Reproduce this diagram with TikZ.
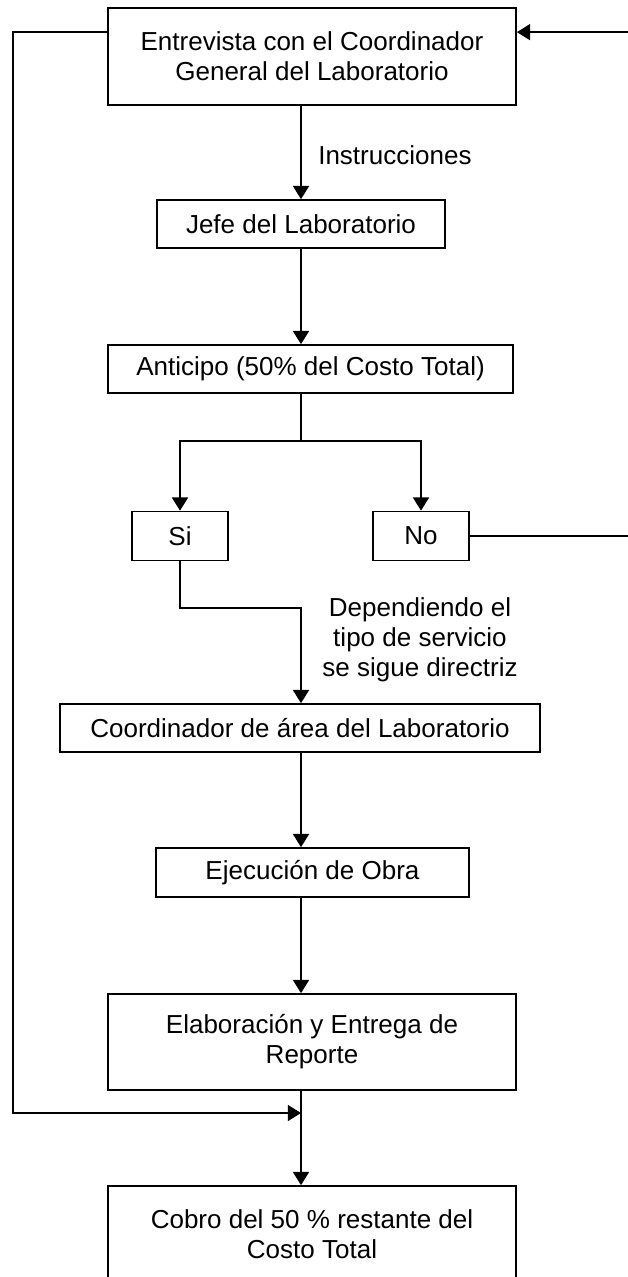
\documentclass[tikz,border=0pt]{standalone}
\usepackage{fontspec}
\setmainfont{Liberation Sans}
\usetikzlibrary{calc}
\usetikzlibrary{arrows.meta}
\tikzset{>={Triangle[length=0.33cm,width=0.4cm]}}
\tikzset{
  box/.style={draw, line width=1.2pt, rectangle, inner sep=0pt, align=center,
    font=\fontsize{18.5pt}{21.3pt}\selectfont},
  lbl/.style={align=center, inner sep=0pt, font=\fontsize{18.5pt}{21.3pt}\selectfont},
  conn/.style={line width=1.2pt}
}

\begin{document}
\begin{tikzpicture}[x=0.025cm, y=-0.025cm]
        \useasboundingbox (0,0) rectangle (628,1277);

        % Boxes down the middle
        \node[box, minimum width=10.2cm, minimum height=2.425cm] (entrevista) at (312,56.5)
            {Entrevista con el Coordinador\\General del Laboratorio};
        \node[box, minimum width=7.2cm, minimum height=1.2cm] (jefe) at (301,224) {Jefe del Laboratorio};
        \node[box, minimum width=10.125cm, minimum height=1.2cm] (anticipo) at (310.5,369) {Anticipo (50\% del Costo Total)};
        \node[box, minimum width=2.4cm, minimum height=1.225cm] (si) at (180,536) {Si};
        \node[box, minimum width=2.4cm, minimum height=1.225cm] (no) at (421,536) {No};
        \node[box, minimum width=12cm, minimum height=1.2cm] (coordarea) at (300,728) {Coordinador de área del Laboratorio};
        \node[box, minimum width=7.825cm, minimum height=1.225cm] (ejecucion) at (312.5,872.5) {Ejecución de Obra};
        \node[box, minimum width=10.2cm, minimum height=2.4cm] (elaboracion) at (312,1042)
            {Elaboración y Entrega de\\Reporte};
        \node[box, minimum width=10.2cm, minimum height=2.4cm] (cobro) at (312,1234)
            {Cobro del 50 \% restante del\\Costo Total};

        % Labels next to the trunk
        \node[lbl, anchor=west] (instr) at (318,155) {Instrucciones};
        \node[lbl] (depend) at (420,640) {Dependiendo el\\tipo de servicio\\se sigue directriz};

        % Helper points
        \coordinate (trunk) at (301,0);
        \coordinate (split) at (301,441);
        \coordinate (sibend) at (301,608);
        \coordinate (junction) at (301,1113);
        \coordinate (leftx) at (13,0);
        \coordinate (rightx) at (634,0);
        \coordinate (inL) at ($(entrevista.north west)+(0,25)$);
        \coordinate (inR) at ($(entrevista.north east)+(0,25)$);

        % Main flow
        \draw[conn,->] (trunk |- entrevista.south) -- (trunk |- jefe.north);
        \draw[conn,->] (trunk |- jefe.south) -- (trunk |- anticipo.north);
        \draw[conn] (trunk |- anticipo.south) -- (split);
        \draw[conn,->] (split) -| (si.north);
        \draw[conn,->] (split) -| (no.north);
        \draw[conn,->] (si.south) |- (sibend) -- (sibend |- coordarea.north);
        \draw[conn,->] (trunk |- coordarea.south) -- (trunk |- ejecucion.north);
        \draw[conn,->] (trunk |- ejecucion.south) -- (trunk |- elaboracion.north);
        \draw[conn] (trunk |- elaboracion.south) -- (junction);
        \draw[conn,->] (junction) -- (trunk |- cobro.north);

        % Return paths on both sides
        \draw[conn,->] (inL) -- (inL -| leftx) |- (junction);
        \draw[conn,->] (no.east) -- (no.east -| rightx) |- (inR);
\end{tikzpicture}
\end{document}
